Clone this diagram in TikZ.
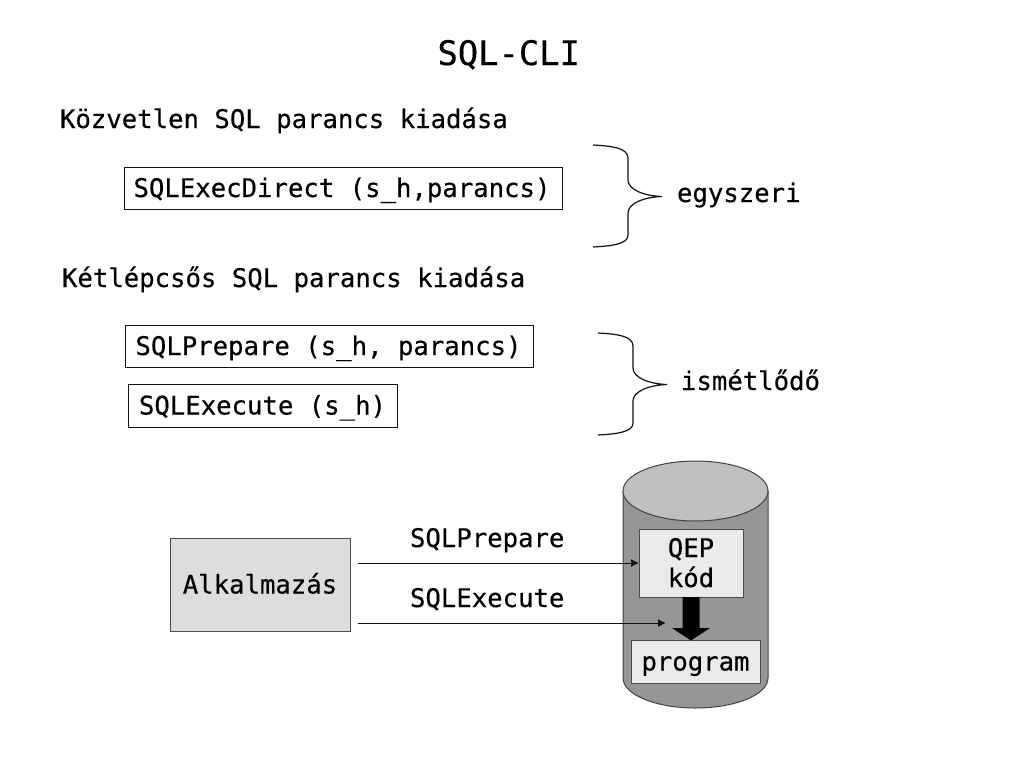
\documentclass[tikz,border=0pt]{standalone}
\usepackage{fontspec}
\setmainfont[FakeBold=0.35]{DejaVu Sans Mono}
\newfontfamily\monoheavy[FakeBold=0.35]{DejaVu Sans Mono}
\usetikzlibrary{arrows.meta}
\definecolor{cylbody}{HTML}{969696}
\definecolor{cyltop}{HTML}{C0C0C0}
\definecolor{lightbox}{HTML}{EAEAEA}
\definecolor{appbox}{HTML}{DDDDDD}
\definecolor{ink}{HTML}{111111}
\tikzset{
  every node/.style={inner sep=0pt,outer sep=0pt,text=black},
  basetext/.style={font=\monoheavy\fontsize{25.65}{30}\selectfont,anchor=base west},
  titletext/.style={font=\monoheavy\fontsize{33.8}{40}\selectfont,anchor=base west},
  cmdbox/.style={draw=ink,line width=1pt,fill=white,font=\monoheavy\fontsize{25.65}{30}\selectfont,text height=18pt,text depth=0pt},
  greybox/.style={draw=ink!75,line width=1pt,font=\monoheavy\fontsize{25.65}{30}\selectfont,align=center,text height=18pt,text depth=0pt},
  conn/.style={draw=ink,line width=1pt,-{Latex[length=8pt,width=8pt]}},
  bracecurve/.style={draw=ink,line width=1.2pt},
}
\begin{document}
\begin{tikzpicture}[x=1pt,y=-1pt]
\useasboundingbox (0,0) rectangle (1024,768);
\fill[white] (0,0) rectangle (1024,768);

\node[titletext] (title) at (437.5,65) {SQL-CLI};
\node[basetext] (h1) at (60,128) {Közvetlen SQL parancs kiadása};
\node[basetext] (h2) at (62,287) {Kétlépcsős SQL parancs kiadása};

\node[cmdbox,minimum width=438pt,minimum height=42pt] (direct) at (343,188) {SQLExecDirect (s\_h,parancs)\hspace*{2pt}};
\node[cmdbox,minimum width=408pt,minimum height=42pt] (prep) at (329,346) {SQLPrepare (s\_h, parancs)\hspace*{1pt}};
\node[cmdbox,minimum width=269pt,minimum height=43pt] (exec) at (262.5,405.5) {SQLExecute (s\_h)};

% braces
\draw[bracecurve] (593,145) .. controls (612,146) and (628,148) .. (628,158)
  -- (628,180) .. controls (628,190) and (645,196) .. (662,196.5)
  .. controls (645,197) and (628,203) .. (628,213)
  -- (628,235) .. controls (628,244) and (612,246) .. (593,247);
\draw[bracecurve] (598,333) .. controls (617,334) and (633,336) .. (633,346)
  -- (633,368) .. controls (633,378) and (650,384) .. (667,384.5)
  .. controls (650,385) and (633,391) .. (633,401)
  -- (633,423) .. controls (633,432) and (617,434) .. (598,435);
\node[basetext] (once) at (677,202) {egyszeri};
\node[basetext] (rep) at (681,390) {ismétlődő};

% cylinder
\draw[draw=ink!80,line width=1pt,fill=cylbody] (623,491) -- (623,678)
  arc[start angle=180,end angle=360,x radius=72.5pt,y radius=30pt] -- (768,491) -- cycle;
\draw[draw=ink!80,line width=1pt,fill=cyltop] (695.5,491) ellipse[x radius=72.5pt,y radius=30pt];

\node[greybox,fill=appbox,minimum width=180pt,minimum height=93pt] (app) at (260,584.5) {Alkalmazás};
\node[greybox,fill=lightbox,minimum width=104pt,minimum height=68pt,text height=48pt] (qep) at (691,563) {QEP\\kód};
\node[greybox,fill=lightbox,minimum width=129pt,minimum height=43pt] (prog) at (695.5,661.5) {program};

% thick arrow
\fill[black] (682.5,597) -- (699.5,597) -- (699.5,628) -- (710,628) -- (691,640.5) -- (672,628) -- (682.5,628) -- cycle;

% connectors
\coordinate (s1) at (358,563);
\coordinate (s2) at (358,623);
\coordinate (e2) at (666,623);
\draw[conn] (s1) -- (s1 -| qep.west);
\draw[conn] (s2) -- (e2);
\node[basetext] (lp) at (410,547) {SQLPrepare};
\node[basetext] (le) at (410,607) {SQLExecute};
\end{tikzpicture}
\end{document}
